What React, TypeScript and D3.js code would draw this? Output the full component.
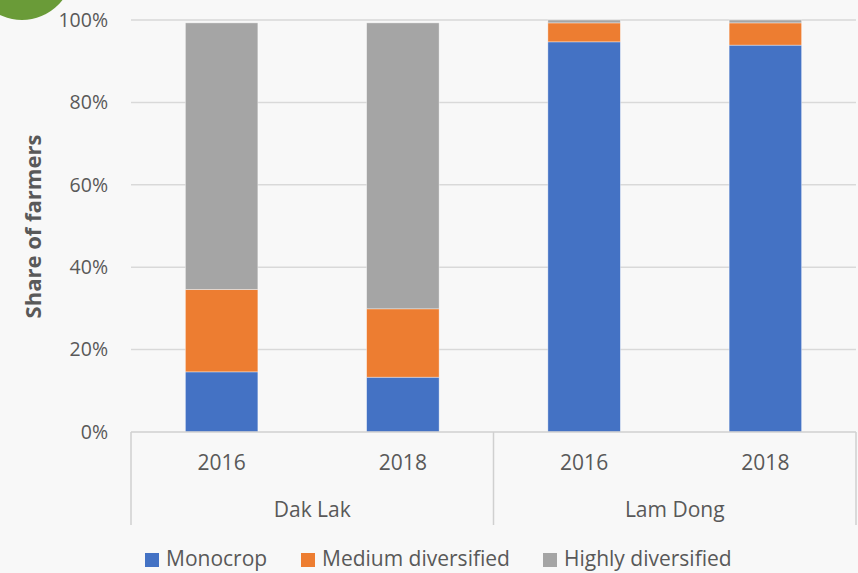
import React from "react";
import * as d3 from "d3";

const regions = ["Dak Lak", "Lam Dong"];
const years = ["2016", "2018"];
const categories = ["Dak Lak|2016", "Dak Lak|2018", "Lam Dong|2016", "Lam Dong|2018"];
const seriesNames = ["Monocrop", "Medium diversified", "Highly diversified"];
const monocrop = [14.6, 13.3, 94.7, 93.9];
const medium = [20.0, 16.6, 4.6, 5.4];
const highly = [64.7, 69.4, 0.7, 0.7];
const yTicks = [0, 20, 40, 60, 80, 100];
const colors = ["#4472c4", "#ed7d31", "#a5a5a5"];

const W = 858;
const H = 573;
const FONT = "'Open Sans', 'Noto Sans', sans-serif";

export default function App() {
  const x0 = 131;
  const x1 = 856;
  const yTop = 20;
  const yBot = 432;

  const x = d3.scaleBand<string>().domain(categories).range([x0, x1]).paddingInner(0.6).paddingOuter(0.3);
  const y = d3.scaleLinear().domain([0, 100]).range([yBot, yTop]);

  const rows = categories.map((c, i) => ({
    cat: c,
    Monocrop: monocrop[i],
    "Medium diversified": medium[i],
    "Highly diversified": highly[i],
  }));
  const stacked = d3.stack<any>().keys(seriesNames)(rows);

  const regionScale = d3.scaleBand<string>().domain(regions).range([x0, x1]);

  const legendItems = [
    { name: seriesNames[0], sx: 145, tx: 166 },
    { name: seriesNames[1], sx: 301, tx: 322 },
    { name: seriesNames[2], sx: 543, tx: 564 },
  ];

  return (
    <div style={{ position: "fixed", left: 0, top: 0, width: W, height: H }}>
      <svg width={W} height={H} style={{ display: "block", background: "#f8f8f8" }}>
        <circle cx={22} cy={-31} r={51} fill="#6a9b38" />
        {yTicks.map((t) => (
          <g key={t}>
            {t > 0 && (
              <line x1={x0} x2={x1} y1={y(t)} y2={y(t)} stroke="#d9d9d9" strokeWidth={1.5} />
            )}
            <text
              x={108}
              y={y(t)}
              dy="0.35em"
              textAnchor="end"
              fontFamily={FONT}
              fontSize={19.5}
              fill="#595959"
            >
              {t}%
            </text>
          </g>
        ))}
        {stacked.map((s, si) =>
          s.map((d, i) => (
            <rect
              key={si + "-" + i}
              x={x(categories[i])}
              width={x.bandwidth()}
              y={y(d[1])}
              height={Math.max(0, y(d[0]) - y(d[1]))}
              fill={colors[si]}
              stroke="#ffffff"
              strokeOpacity={0.5}
              strokeWidth={0.75}
            />
          ))
        )}
        <line x1={x0} x2={x1} y1={yBot} y2={yBot} stroke="#d0d0d0" strokeWidth={1.5} />
        {[x0, regionScale("Lam Dong") as number, x1].map((lx, i) => (
          <line key={i} x1={lx} x2={lx} y1={yBot} y2={525} stroke="#d0d0d0" strokeWidth={1.5} />
        ))}
        {categories.map((c, i) => (
          <text
            key={c}
            x={(x(c) as number) + x.bandwidth() / 2}
            y={463}
            dy="0.35em"
            textAnchor="middle"
            fontFamily={FONT}
            fontSize={21}
            fill="#595959"
          >
            {years[i % 2]}
          </text>
        ))}
        {regions.map((r) => (
          <text
            key={r}
            x={(regionScale(r) as number) + regionScale.bandwidth() / 2}
            y={510}
            dy="0.35em"
            textAnchor="middle"
            fontFamily={FONT}
            fontSize={21}
            fill="#595959"
          >
            {r}
          </text>
        ))}
        <text
          transform={`translate(41,${226.5}) rotate(-90)`}
          textAnchor="middle"
          fontFamily={FONT}
          fontSize={22}
          fontWeight="bold"
          fill="#595959"
        >
          Share of farmers
        </text>
        {legendItems.map((l, i) => (
          <g key={l.name}>
            <rect x={l.sx} y={553} width={14} height={14} fill={colors[i]} />
            <text x={l.tx} y={566} fontFamily={FONT} fontSize={21} fill="#595959">
              {l.name}
            </text>
          </g>
        ))}
      </svg>
    </div>
  );
}
